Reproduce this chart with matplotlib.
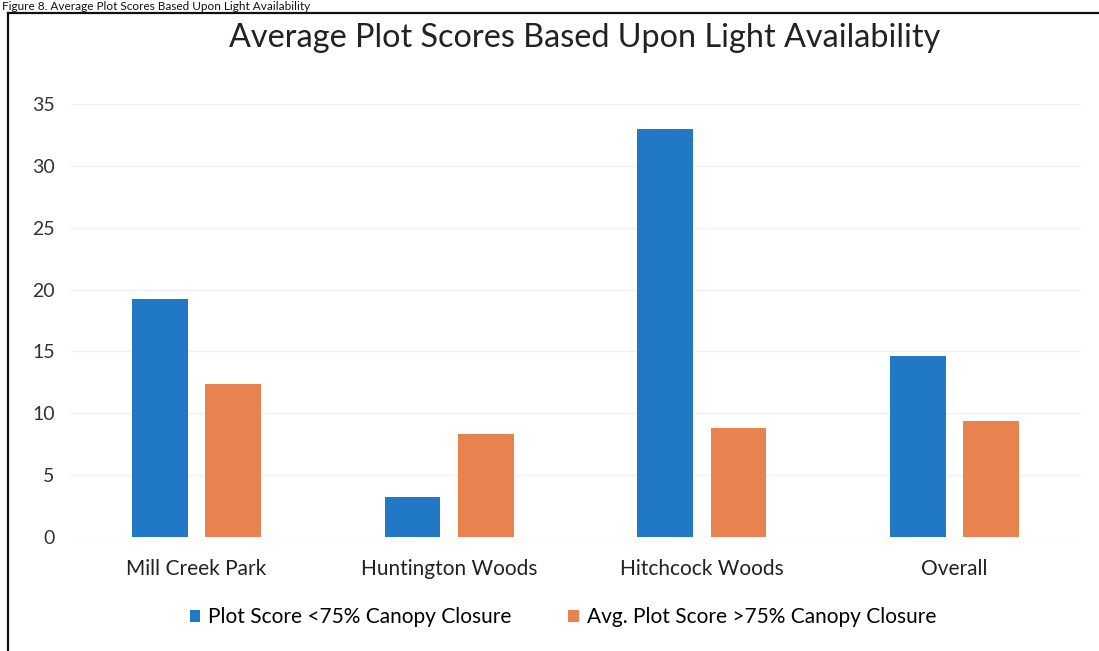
import matplotlib
matplotlib.use("Agg")
import matplotlib.pyplot as plt
from matplotlib.lines import Line2D
from matplotlib.patches import Patch
import numpy as np

categories = ["Mill Creek Park", "Huntington Woods", "Hitchcock Woods", "Overall"]
below75 = [19.2, 3.2, 33.0, 14.6]
above75 = [12.4, 8.3, 8.8, 9.4]
series_names = ["Plot Score <75% Canopy Closure", "Avg. Plot Score >75% Canopy Closure"]
yticks = [0, 5, 10, 15, 20, 25, 30, 35]
title = "Average Plot Scores Based Upon Light Availability"
caption = "Figure 8. Average Plot Scores Based Upon Light Availability"

BLUE = "#2179C6"
ORANGE = "#E8834F"
FONT = "Lato"

W, H = 1099, 651
fig = plt.figure(figsize=(W / 100, H / 100), dpi=100)
ax = fig.add_axes([70 / W, (H - 537) / H, (1081 - 70) / W, (537 - 104) / H])

x = np.arange(len(categories))
bw = 0.22
off = 0.145
ax.bar(x - off, below75, width=bw, color=BLUE, label=series_names[0], zorder=3)
ax.bar(x + off, above75, width=bw, color=ORANGE, label=series_names[1], zorder=3)

ax.set_xlim(-0.5, len(categories) - 0.5)
ax.set_ylim(0, 35)
ax.set_yticks(yticks)
ax.set_yticklabels([str(v) for v in yticks], fontsize=14, family=FONT, color="#333333")
ax.set_xticks(x)
ax.set_xticklabels(categories, fontsize=15, family=FONT, color="#222222")
ax.tick_params(axis="both", length=0)
ax.tick_params(axis="y", pad=11)
ax.tick_params(axis="x", pad=16)
ax.grid(axis="y", color="#f1f1f1", linewidth=1.0, zorder=0)
for s in ax.spines.values():
    s.set_visible(False)

fig.text(585 / W, 1 - 38 / H, title, ha="center", va="center", fontsize=23.3,
         family=FONT, color="#222222")

fig.text(2 / W, 1 - 0.5 / H, caption, ha="left", va="top", fontsize=8.5,
         family=FONT, color="#111111")

handles = [Patch(facecolor=BLUE), Patch(facecolor=ORANGE)]
fig.legend(handles, series_names, loc="center", bbox_to_anchor=(563 / W, 1 - 617 / H),
           ncol=2, frameon=False, prop={"family": FONT, "size": 15},
           handlelength=0.5, handleheight=0.5, handletextpad=0.4, columnspacing=2.7)

fig.add_artist(Line2D([8 / W, 1.0], [1 - 13 / H, 1 - 13 / H], transform=fig.transFigure,
                      color="#111111", linewidth=1.6))
fig.add_artist(Line2D([8 / W, 8 / W], [0.0, 1 - 13 / H], transform=fig.transFigure,
                      color="#111111", linewidth=1.6))

fig.savefig("out.png", dpi=100)
